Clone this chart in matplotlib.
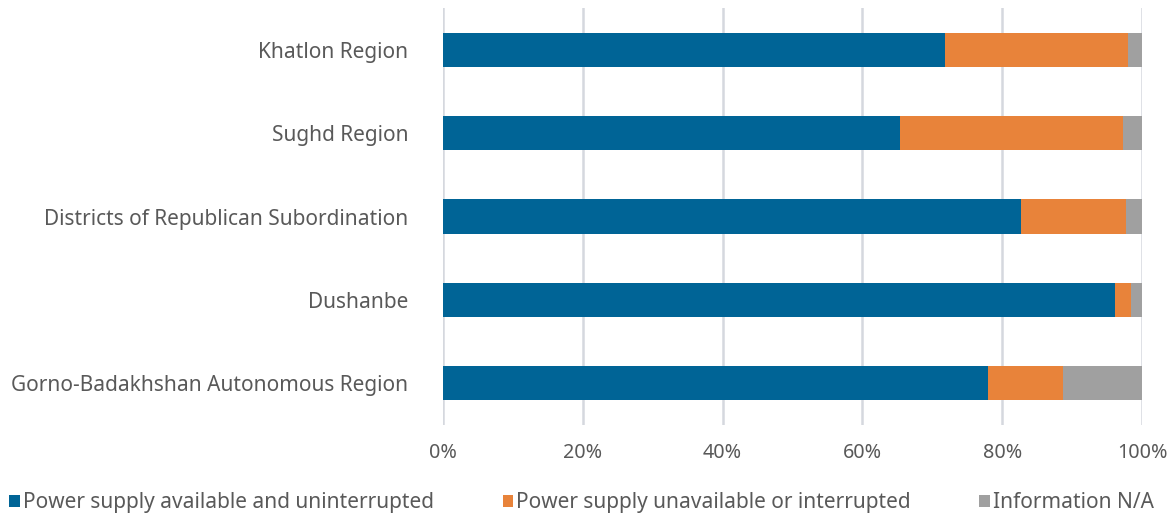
import numpy as np
import matplotlib
matplotlib.use("Agg")
import matplotlib.pyplot as plt
from matplotlib.ticker import PercentFormatter

plt.rcParams['font.family'] = ['Noto Sans', 'DejaVu Sans']

regions = ['Khatlon Region', 'Sughd Region', 'Districts of Republican Subordination',
           'Dushanbe', 'Gorno-Badakhshan Autonomous Region']
available = [71.8, 65.4, 82.7, 96.1, 78.0]
unavailable = [26.2, 31.9, 15.0, 2.3, 10.7]
no_info = [2.0, 2.7, 2.3, 1.6, 11.3]

series = [
    ('Power supply available and uninterrupted', available, '#006496'),
    ('Power supply unavailable or interrupted', unavailable, '#e8833a'),
    ('Information N/A', no_info, '#a0a0a0'),
]

fig = plt.figure(figsize=(11.75, 5.18), dpi=100)
ax = fig.add_axes([0.377, 0.1795, 0.595, 0.805])

y = np.arange(len(regions))
left = np.zeros(len(regions))
for label, vals, color in series:
    ax.barh(y, vals, left=left, height=0.41, color=color, label=label, zorder=3)
    left += np.array(vals)

ax.set_ylim(len(regions) - 0.5, -0.5)
ax.set_xlim(0, 100)
ax.set_xticks(np.arange(0, 101, 20))
ax.xaxis.set_major_formatter(PercentFormatter(decimals=0))
ax.set_yticks(y)
ax.set_yticklabels(regions)
ax.tick_params(axis='both', length=0, colors='#595959')
ax.tick_params(axis='x', pad=13, labelsize=14.2)
ax.tick_params(axis='y', pad=25, labelsize=15)
ax.grid(axis='x', color='#d5d8de', linewidth=1.8, zorder=0)
for s in ax.spines.values():
    s.set_visible(False)

handles, labels = ax.get_legend_handles_labels()
fig.legend(handles, labels, loc='center', bbox_to_anchor=(0.495, 0.03), ncol=3,
           frameon=False, fontsize=15, labelcolor='#595959',
           handlelength=0.5, handleheight=0.5, handletextpad=0.15, columnspacing=3.3)

fig.savefig('out.png', dpi=100)
